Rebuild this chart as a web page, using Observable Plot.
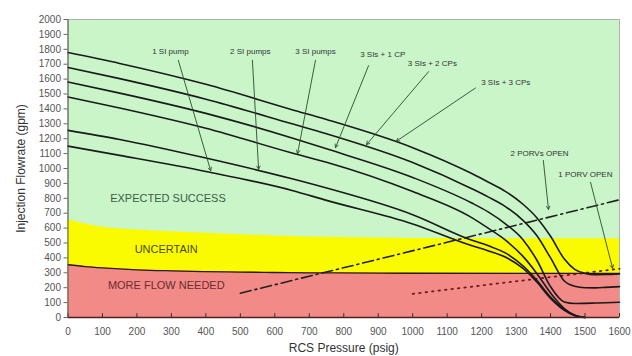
<!DOCTYPE html>
<html><head><meta charset="utf-8">
<script src="https://cdn.jsdelivr.net/npm/d3@7"></script>
<script src="https://cdn.jsdelivr.net/npm/@observablehq/plot@0.6"></script>
<style>body{margin:0;background:#fff;font-family:"Liberation Sans",Arial,sans-serif;}</style>
</head><body><div id="chart"></div>
<script>
// RCS pressure samples (psig) shared by all pump curves
const pressure = [0,150,400,650,750,1000,1170,1220,1270,1320,1360,1400,1440,1470,1500,1530,1560,1600];
// injection flowrate (gpm) per pump configuration
const sis3cps3 = [1778,1705,1565,1395,1329,1140,968,908,845,760,670,545,392,323,296,288,289,293];
const sis3cps2 = [1678,1603,1465,1300,1233,1040,866,808,743,652,550,400,245,210,200,199,202,207];
const sis3cp1  = [1580,1506,1370,1205,1132,940,770,707,627,522,386,207,104,94,95,97,99,102];
const si3      = [1480,1406,1270,1104,1042,845,672,598,518,410,296,165,60,15,0,null,null,null];
const si2      = [1256,1195,1070,931,869,690,520,481,432,346,250,138,55,15,0,null,null,null];
const si1      = [1150,1088,980,853,786,628,483,447,404,330,239,128,48,12,0,null,null,null];
const seriesNames = ["3 SIs + 3 CPs","3 SIs + 2 CPs","3 SIs + 1 CP","3 SI pumps","2 SI pumps","1 SI pump"];
const seriesValues = [sis3cps3, sis3cps2, sis3cp1, si3, si2, si1];

// zone boundaries
const zoneX     = [0,50,100,200,300,400,500,600,700,900,1000,1600];
const redTop    = [354,342,333,320,313,308,305,302,300,298,297,296];
const yellowTop = [656,628,606,588,576,565,555,547,540,533,530,528];

// PORV lines
const porv2X = [500,1600], porv2Y = [163,790];
const porv1X = [1000,1600], porv1Y = [159,327];

// annotations (text, label position, arrow start/end) in data units
const annText = ["1 SI pump","2 SI pumps","3 SI pumps","3 SIs + 1 CP","3 SIs + 2 CPs","3 SIs + 3 CPs","2 PORVs OPEN","1 PORV OPEN"];
const annX  = [297,529,718,913,1057,1270,1368,1501];
const annY  = [1786,1786,1786,1766,1705,1578,1101,960];
const arrX1 = [320,535,718,872,1046,1182,1379,1516];
const arrY1 = [1726,1726,1726,1690,1650,1540,1054,907];
const arrX2 = [414,553,666,776,866,952,1394,1580];
const arrY2 = [985,995,1100,1140,1160,1182,725,330];

const zoneText = ["EXPECTED SUCCESS","UNCERTAIN","MORE FLOW NEEDED"];
const zoneTX = [290,285,285];
const zoneTY = [799,457,215];
const zoneColor = ["#3c5c44","#4a4a12","#6a2c2c"];

const xTicks = d3.range(0,1601,100);
const yTicks = d3.range(0,2001,100);

const curveRows = [];
seriesValues.forEach((vals,i)=>vals.forEach((v,j)=>{ if(v!=null) curveRows.push({s:seriesNames[i], x:pressure[j], y:v}); }));
const zoneRows = zoneX.map((x,i)=>({x, r:redTop[i], yl:yellowTop[i]}));
const annRows = annText.map((t,i)=>({t, x:annX[i], y:annY[i], x1:arrX1[i], y1:arrY1[i], x2:arrX2[i], y2:arrY2[i]}));
const zoneRowsT = zoneText.map((t,i)=>({t, x:zoneTX[i], y:zoneTY[i], c:zoneColor[i]}));

const chart = Plot.plot({
  width: 632, height: 356,
  marginLeft: 67.5, marginRight: 13, marginTop: 19, marginBottom: 39,
  style: {fontFamily: "Liberation Sans, Arial, sans-serif", background: "#fff"},
  x: {domain: [0,1600]},
  y: {domain: [0,2000]},
  marks: [
    Plot.frame({fill: "#c9f5c9", stroke: "#b0b0b0"}),
    Plot.areaY(zoneRows, {x: "x", y1: 0, y2: "yl", fill: "#fbfb00", curve: "monotone-x"}),
    Plot.areaY(zoneRows, {x: "x", y1: 0, y2: "r", fill: "#f28a88", curve: "monotone-x"}),
    Plot.line(zoneRows, {x: "x", y: "r", stroke: "#2a1a1a", strokeWidth: 1.3, curve: "monotone-x"}),
    Plot.line(porv2X.map((x,i)=>({x, y:porv2Y[i]})), {x:"x", y:"y", stroke:"#222", strokeWidth:1.6, strokeDasharray:"11,4,2,4"}),
    Plot.line(porv1X.map((x,i)=>({x, y:porv1Y[i]})), {x:"x", y:"y", stroke:"#6a1a1a", strokeWidth:1.8, strokeDasharray:"1.5,5", strokeLinecap:"round"}),
    Plot.line(curveRows, {x:"x", y:"y", z:"s", stroke:"#1a1a1a", strokeWidth:1.6, curve:"monotone-x"}),
    Plot.arrow(annRows, {x1:"x1", y1:"y1", x2:"x2", y2:"y2", stroke:"#2e4a30", strokeWidth:0.9, headLength:6, headAngle:55}),
    Plot.text(annRows, {x:"x", y:"y", text:"t", fontSize:8, fill:"#333"}),
    Plot.text(zoneRowsT, {x:"x", y:"y", text:"t", fill:"c", fontSize:11}),
    Plot.ruleX(xTicks, {x: d=>d, y1: 0, y2: 26, stroke:"#333"}),
    Plot.ruleY([0], {stroke:"#4a2020", strokeWidth:1.3}),
    Plot.ruleX([0], {stroke:"#555", strokeWidth:1}),
    Plot.axisX({ticks: xTicks, tickFormat: d => String(d), tickSize: 0, tickPadding: 10, fontSize: 10, color:"#555", label: "RCS Pressure (psig)", labelAnchor: "center", labelOffset: 34, labelArrow: false}),
    Plot.axisY({ticks: yTicks, tickFormat: d => String(d), tickSize: 4, tickPadding: 3, fontSize: 10, color:"#555", label: "Injection Flowrate (gpm)", labelAnchor: "center", labelOffset: 52, labelArrow: false})
  ]
});
document.getElementById("chart").appendChild(chart);
chart.querySelectorAll("[aria-label='x-axis label'] text, [aria-label='y-axis label'] text").forEach(t=>{t.setAttribute("font-size","12"); t.setAttribute("fill","#333");});
chart.querySelectorAll("[aria-label='y-axis tick']").forEach(g=>g.setAttribute("stroke","#666"));
</script>
</body></html>
